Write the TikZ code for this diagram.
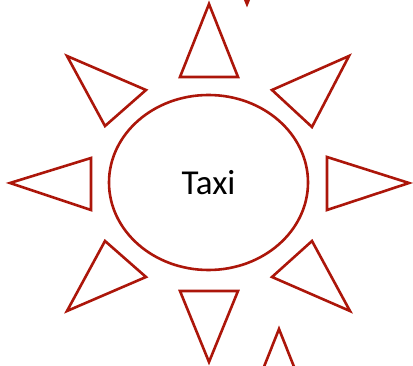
\documentclass[tikz,border=0pt]{standalone}
\usepackage{fontspec}
\usepackage{tikz}
\usetikzlibrary{shapes.geometric}
\newfontfamily\carlito{Carlito}
\definecolor{taxired}{RGB}{172,22,10}

\begin{document}
\begin{tikzpicture}[
  x=1pt, y=-1pt,
  ray/.style={draw=taxired, line width=2.6pt, line join=miter},
  hub/.style={ellipse, draw=taxired, line width=2.6pt, minimum width=199pt,
    minimum height=175pt, inner sep=0pt, font=\carlito\fontsize{35}{42}\selectfont}
]
\useasboundingbox (0,0) rectangle (413,366);
\clip (0,0) rectangle (413,366);

\node[hub] (taxi) at (208.5,182.5) {Taxi};

% rays round the ellipse
\draw[ray] (209,4) -- (238,77) -- (180,77) -- cycle;
\draw[ray] (349,56) -- (312,127) -- (272,90) -- cycle;
\draw[ray] (409,183) -- (327,210) -- (327,157) -- cycle;
\draw[ray] (350,311) -- (272,277) -- (312,241) -- cycle;
\draw[ray] (209,362) -- (180,291) -- (238,291) -- cycle;
\draw[ray] (67,311) -- (105,241) -- (146,277) -- cycle;
\draw[ray] (10,183) -- (91,158) -- (91,210) -- cycle;
\draw[ray] (67,56) -- (146,90) -- (105,126) -- cycle;

% cut off at the edges
\draw[ray] (279,329) -- (308,402) -- (250,402) -- cycle;
\draw[ray] (247,4) -- (218,-67) -- (276,-67) -- cycle;
\end{tikzpicture}
\end{document}
